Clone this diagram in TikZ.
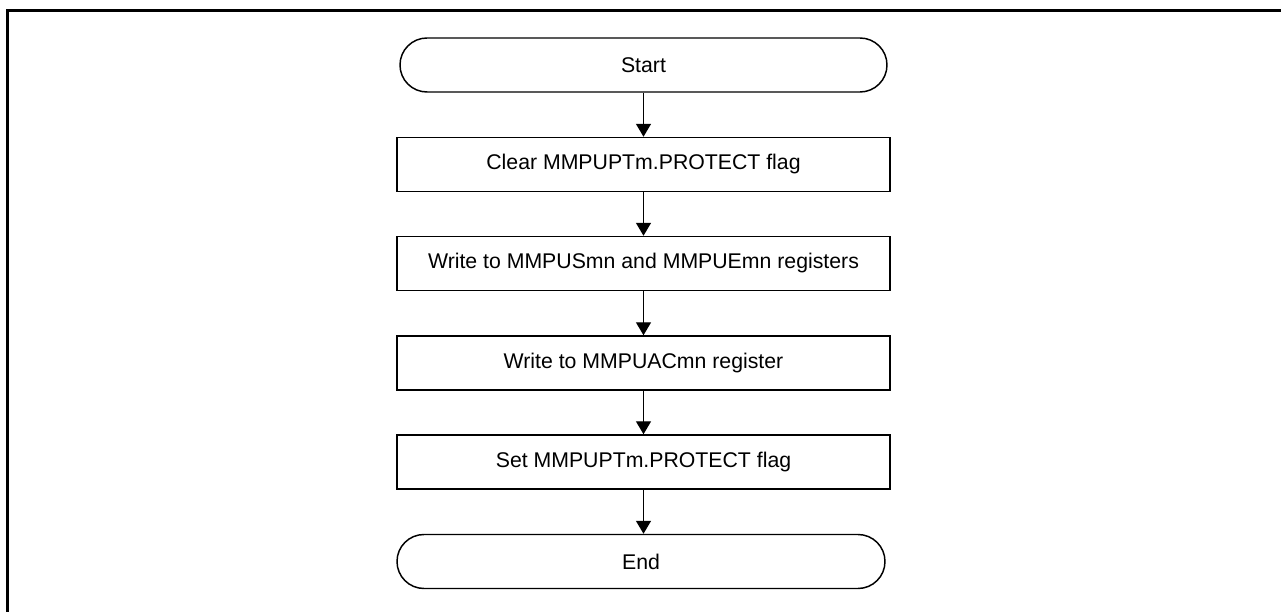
\documentclass[tikz,border=0pt]{standalone}
\usepackage{fontspec}
\setmainfont{Liberation Sans}
\usepackage{tikz}
\usetikzlibrary{arrows.meta}

\tikzset{
  termbox/.style={draw, line width=0.42pt, rounded corners=0.27cm, minimum width=4.87cm,
                  minimum height=0.54cm, inner sep=0pt, font=\fontsize{6.05}{7.3}\selectfont},
  stepbox/.style={draw, line width=0.42pt, minimum width=4.93cm, minimum height=0.54cm,
                  inner sep=0pt, font=\fontsize{6.05}{7.3}\selectfont},
  flow/.style={line width=0.42pt, -{Triangle[length=0.13cm, width=0.15cm]}}
}

\begin{document}
\begin{tikzpicture}
  \useasboundingbox (0,0) rectangle (12.81,6.12);
  % frame
  \draw[line width=0.85pt] (0.075,0) -- (0.075,6.015) -- (12.81,6.015);
  % nodes
  \node[termbox] (start) at (6.435,5.47) {Start};
  \node[stepbox] (clear) at (6.435,4.475) {Clear MMPUPTm.PROTECT flag};
  \node[stepbox] (wrse)  at (6.435,3.485) {Write to MMPUSmn and MMPUEmn registers};
  \node[stepbox] (wrac)  at (6.435,2.49) {Write to MMPUACmn register};
  \node[stepbox] (set)   at (6.435,1.50) {Set MMPUPTm.PROTECT flag};
  \node[termbox, minimum width=4.88cm] (end) at (6.41,0.505) {End};
  % arrows
  \draw[flow] (start) -- (clear);
  \draw[flow] (clear) -- (wrse);
  \draw[flow] (wrse) -- (wrac);
  \draw[flow] (wrac) -- (set);
  \draw[flow] (set.south) -- (set.south |- end.north);
\end{tikzpicture}
\end{document}
